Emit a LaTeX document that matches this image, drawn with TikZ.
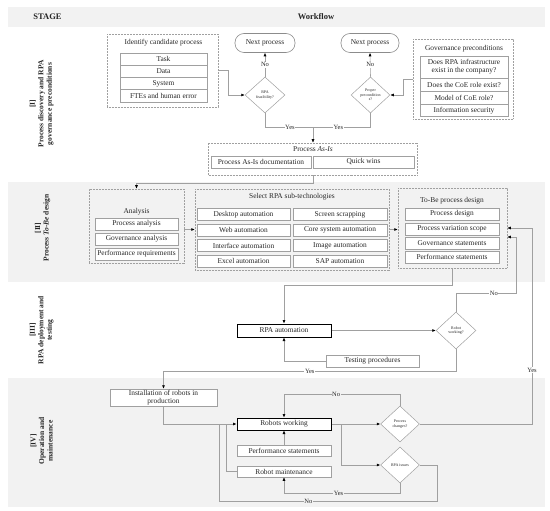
\documentclass[tikz,border=0pt]{standalone}
\usepackage{fontspec}
\setmainfont{Liberation Serif}
\usetikzlibrary{shapes.geometric,arrows.meta,calc}
\definecolor{bandgray}{HTML}{F2F2F2}
\definecolor{linegray}{HTML}{A0A0A0}
\definecolor{dotgray}{HTML}{8C8C8C}
\definecolor{txt}{HTML}{262626}
\newcommand\fsz[2]{\fontsize{#1}{#2}\selectfont}
\begin{document}
\begin{tikzpicture}[x=1pt,y=-1pt,
  box/.style={draw=linegray, fill=white, inner sep=0pt, line width=0.5pt, font=\fsz{7.4}{8.2}, text=txt},
  bx/.style 2 args={box, minimum width=#1, minimum height=#2},
  tbox/.style={draw=black, fill=white, inner sep=0pt, line width=1pt, font=\fsz{7.4}{8.2}, text=txt},
  dbox/.style={draw=linegray, dash pattern=on 0.7pt off 0.8pt, inner sep=0pt, line width=0.5pt},
  ttl/.style={inner sep=0pt, font=\fsz{7.4}{8.2}, text=txt},
  nxt/.style={draw=dotgray, fill=white, rounded corners=9pt, inner sep=0pt, minimum width=60, minimum height=19, line width=0.6pt, font=\fsz{7.4}{8.2}, text=txt},
  dia/.style={diamond, draw=linegray, fill=white, inner sep=0pt, line width=0.5pt, minimum width=40, minimum height=36, align=center, font=\fsz{4}{4.6}, text=txt},
  hdr/.style={font=\bfseries\fsz{8.5}{9}, text=txt, inner sep=0pt},
  stg/.style={rotate=90, align=center, font=\bfseries\fsz{7.5}{8.5}, text=txt, inner sep=0pt},
  conn/.style={draw=linegray, line width=0.6pt},
  arr/.style={conn, -{Latex[length=3.5pt,width=3pt,color=black]}},
  lbl/.style={font=\fsz{6.5}{7}, fill=white, inner sep=0.6pt, text=txt},
  lblg/.style={lbl, fill=bandgray}
]
\useasboundingbox (0,0) rectangle (550,511);
% bands
\fill[bandgray] (8,7) rectangle (545,27);
\fill[bandgray] (8,182) rectangle (545,282);
\fill[bandgray] (8,378) rectangle (545,507);
% header
\node[hdr] (stage) at (47.5,17) {STAGE};
\node[hdr] (wf) at (316,17) {Workflow};
% stage labels
\node[stg] (s1) at (41.5,104) {[I]\\Process discovery and RPA\\governance preconditions};
\node[stg] (s2) at (42.5,228) {[II]\\Process \textit{To-Be} design};
\node[stg] (s3) at (41.5,330) {[III]\\RPA deployment and\\testing};
\node[stg] (s4) at (41.5,441) {[IV]\\Operation and\\maintenance};

% ---------- Band I ----------
\node[dbox, minimum width=111, minimum height=73] (ident) at (162.5,70.5) {};
\node[ttl] (identT) at (163.5,43) {Identify candidate process};
\node[bx={87}{12.3}] (task) at (163.5,59) {Task};
\node[bx={87}{12.3}] (data) at (163.5,71.3) {Data};
\node[bx={87}{12.3}] (sys) at (163.5,83.6) {System};
\node[bx={87}{12.3}] (fte) at (163.5,95.9) {FTEs and human error};

\node[nxt] (next1) at (265,43) {Next process};
\node[dia] (d1) at (265,95) {RPA\\feasibility?};
\node[nxt, minimum width=58] (next2) at (370,43) {Next process};
\node[dia, minimum width=39] (d2) at (370.5,95) {Proper\\precondition\\s?};

\node[dbox, minimum width=100, minimum height=80] (gov) at (463,79) {};
\node[ttl] (govT) at (464,49) {Governance preconditions};
\node[bx={88}{22}, align=center] (g1) at (464,67) {Does RPA infrastructure\\exist in the company?};
\node[bx={88}{13}] (g2) at (464,84.5) {Does the CoE role exist?};
\node[bx={88}{13}] (g3) at (464,97.5) {Model of CoE role?};
\node[bx={88}{12.5}] (g4) at (464,110.25) {Information security};

\coordinate (k1) at (228,70.5);
\coordinate (k2) at (228,95);
\draw[arr] (ident.east) -- (k1) -- (k2) -- (d1.west);
\draw[arr] (d1.north) -- node[lbl]{No} (next1.south);
\coordinate (k3) at (403,79);
\coordinate (k4) at (403,95);
\draw[arr] (gov.west) -- (k3) -- (k4) -- (d2.east);
\draw[arr] (d2.north) -- node[lbl]{No} (next2.south);
\coordinate (yj) at (313,127);
\draw[conn] (d1.south) |- node[lbl, pos=0.76]{Yes} (yj);
\draw[conn] (d2.south) |- node[lbl, pos=0.78]{Yes} (yj);

\node[dbox, minimum width=209, minimum height=32] (asis) at (313,159) {};
\node[ttl] (asisT) at (313,149.5) {Process \textit{As-Is}};
\node[bx={100}{12}] (doc) at (261,162) {Process As-Is documentation};
\node[bx={101}{12}] (qw) at (363.5,162) {Quick wins};
\draw[arr] (yj) -- (asis.north);

% ---------- Band II ----------
\node[dbox, minimum width=95, minimum height=74] (anal) at (136.5,226) {};
\node[ttl] (analT) at (136.5,212) {Analysis};
\node[bx={83}{12}] (pa) at (136.5,224) {Process analysis};
\node[bx={83}{12}] (ga) at (136.5,239) {Governance analysis};
\node[bx={83}{12}] (pr) at (136.5,254) {Performance requirements};

\coordinate (k5) at (313,183);
\coordinate (k6) at (136.5,183);
\draw[arr] (asis.south) -- (k5) -- (k6) -- (anal.north);

\node[dbox, minimum width=194, minimum height=81] (sel) at (292,229.5) {};
\node[ttl] (selT) at (292,197) {Select RPA sub-technologies};
\node[bx={93}{12}] (t1) at (243.5,214.5) {Desktop automation};
\node[bx={93}{12}] (t2) at (243.5,230) {Web automation};
\node[bx={93}{12}] (t3) at (243.5,245.5) {Interface automation};
\node[bx={93}{12}] (t4) at (243.5,261) {Excel automation};
\node[bx={94}{12}] (t5) at (340,214.5) {Screen scrapping};
\node[bx={94}{12}] (t6) at (340,230) {Core system automation};
\node[bx={94}{12}] (t7) at (340,245.5) {Image automation};
\node[bx={94}{12}] (t8) at (340,261) {SAP automation};

\draw[arr] (anal.east |- sel.west) -- (sel.west);

\node[dbox, minimum width=109, minimum height=80] (tobe) at (452.5,228) {};
\node[ttl] (tobeT) at (452,201) {To-Be process design};
\node[bx={94}{12}] (pd) at (452,214) {Process design};
\node[bx={94}{12}] (pvs) at (452,229) {Process variation scope};
\node[bx={94}{12}] (gs) at (452,243) {Governance statements};
\node[bx={94}{12}] (ps) at (452,257) {Performance statements};

\draw[arr] (sel.east) -- (sel.east -| tobe.west);

% ---------- Band III ----------
\node[tbox, minimum width=94, minimum height=13] (rpa) at (284,330.5) {RPA automation};
\node[dia, minimum height=37] (d3) at (456,330.5) {Robot\\working?};
\node[bx={93}{12}] (test) at (372.5,361) {Testing procedures};

\coordinate (k7) at (452.5,285);
\coordinate (k8) at (284,285);
\draw[arr] (tobe.south) -- (k7) -- (k8) -- (rpa.north);
\coordinate (k9) at (284,361);
\draw[arr] (test.west) -- (k9) -- (rpa.south);
\draw[arr] (rpa.east) -- (d3.west);
\coordinate (k10) at (456,293);
\coordinate (k11) at (516,293);
\coordinate (k12) at (516,237);
\draw[arr] (d3.north) -- (k10) -- node[lbl, pos=0.63]{No} (k11) -- (k12) -- ($(tobe.east)+(0,9)$);

% ---------- Band IV ----------
\node[bx={107}{17}, align=center] (inst) at (163.5,397.5) {Installation of robots in\\production};
\coordinate (k13) at (456,371);
\coordinate (k14) at (163.5,371);
\draw[arr] (d3.south) -- (k13) -- node[lbl]{Yes} (k14) -- (inst.north);

\node[tbox, minimum width=94, minimum height=12] (robw) at (284,424) {Robots working};
\node[bx={94}{11}] (perf) at (284,450.5) {Performance statements};
\node[bx={94}{11}] (maint) at (284,471.5) {Robot maintenance};
\node[dia, minimum width=39] (pc) at (400,424) {Process\\changes?};
\node[dia, minimum width=39] (ri) at (400,465) {RPA issues};

\coordinate (k15) at (163.5,424);
\draw[arr] (inst.south) -- (k15) -- (robw.west);
\coordinate (k16) at (226,471.5);
\coordinate (k17) at (226,424);
\draw[conn] (maint.west) -- (k16) -- (k17);
\draw[arr] (perf.north) -- (robw.south);
\draw[arr] (robw.east) -- (pc.west);
\coordinate (j1) at (341,424);
\coordinate (j2) at (341,465);
\draw[arr] (j1) -- (j2) -- (ri.west);
\coordinate (k18) at (400,394);
\coordinate (k19) at (284,394);
\draw[arr] (pc.north) -- (k18) -- node[lblg, pos=0.55]{No} (k19) -- (robw.north);
\coordinate (k20) at (532,424);
\coordinate (k21) at (532,228);
\draw[arr] (pc.east) -- (k20) -- node[lbl, pos=0.276]{Yes} (k21) -- (tobe.east);
\coordinate (k22) at (400,493);
\coordinate (k23) at (284,493);
\draw[arr] (ri.south) -- (k22) -- node[lblg, pos=0.53]{Yes} (k23) -- (maint.south);
\coordinate (k24) at (437,465);
\coordinate (k25) at (437,501);
\coordinate (k26) at (219,501);
\coordinate (k27) at (219,424);
\draw[conn] (ri.east) -- (k24) -- (k25) -- node[lblg, pos=0.59]{No} (k26) -- (k27);
\end{tikzpicture}
\end{document}
